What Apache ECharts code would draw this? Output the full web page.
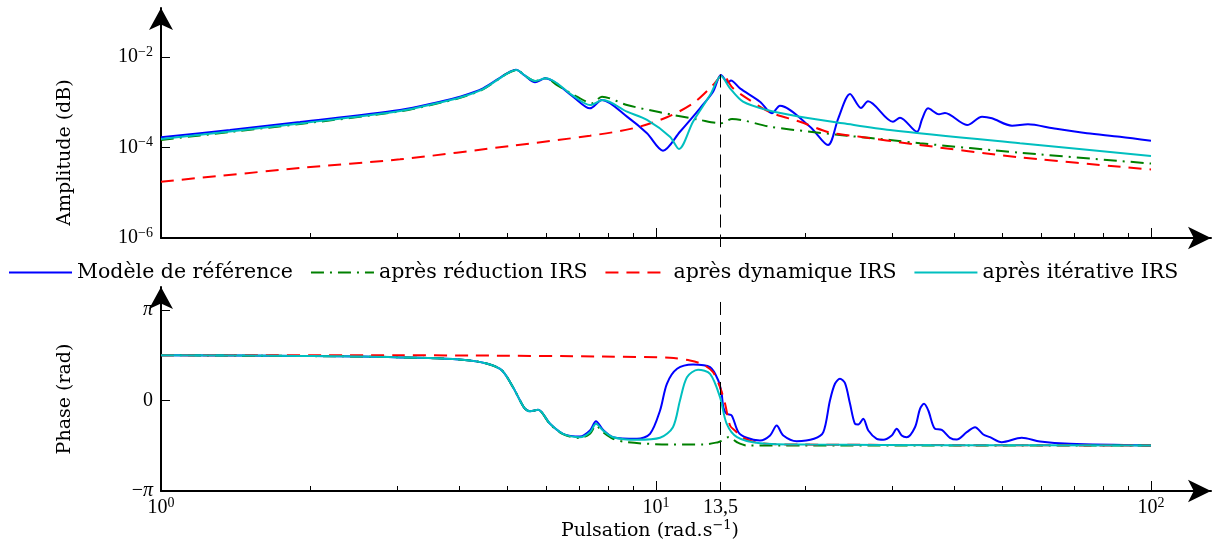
<!DOCTYPE html>
<html>
<head>
<meta charset="utf-8">
<title>Bode IRS</title>
<script src="https://cdn.jsdelivr.net/npm/echarts@6/dist/echarts.min.js"></script>
<style>
  html, body { margin: 0; padding: 0; background: #fff; }
  #chart { width: 1223px; height: 547px; }
</style>
</head>
<body>
<div id="chart"></div>
<script>
// noms des courbes
const seriesNames = ['Modèle de référence', 'après réduction IRS', 'après dynamique IRS', 'après itérative IRS'];
const seriesColors = ['#0000ff', '#008000', '#ff0000', '#00bfbf'];

// amplitude - modèle de référence
const refAmpFreq = [1, 1.378, 1.909, 3.04, 3.662, 4.018, 4.472, 5.0, 5.214, 5.437, 5.697, 5.969, 6.797, 7.356, 7.778, 8.738, 9.59, 10.33, 11.18, 12.27, 13.04, 13.53, 13.98, 14.17, 14.78, 16.22, 17.15, 17.8, 20.47, 22.26, 23.35, 24.66, 25.95, 26.81, 30.11, 31.11, 33.68, 34.47, 35.45, 37.3, 38.35, 42.5, 45.57, 47.72, 52.39, 56.43, 63.39, 74.24, 86.56, 100];
const refAmp = [1.68e-4, 2.44e-4, 3.66e-4, 6.74e-4, 1.03e-3, 1.33e-3, 2.03e-3, 4.37e-3, 5.24e-3, 3.86e-3, 2.76e-3, 3.38e-3, 1.33e-3, 7.35e-4, 1.12e-3, 4.8e-4, 2.06e-4, 8.49e-5, 2.23e-4, 7.35e-4, 1.71e-3, 4.0e-3, 2.73e-3, 3.03e-3, 2.03e-3, 1.03e-3, 5.7e-4, 8.39e-4, 2.88e-4, 1.13e-4, 4.42e-4, 1.52e-3, 7.47e-4, 1.05e-3, 3.71e-4, 4.56e-4, 2.23e-4, 4.2e-4, 7.35e-4, 5.42e-4, 5.78e-4, 3.14e-4, 4.8e-4, 4.42e-4, 3.03e-4, 3.26e-4, 2.65e-4, 2.06e-4, 1.73e-4, 1.41e-4];

// amplitude - après réduction IRS
const redAmpFreq = [1, 1.378, 1.909, 3.04, 3.662, 4.018, 4.472, 5.0, 5.231, 5.437, 5.697, 5.997, 6.31, 6.925, 7.425, 7.778, 8.738, 10.19, 12.27, 13.53, 14.24, 17.0, 20.47, 24.32, 29.69, 34.15, 54.38, 100];
const redAmp = [1.47e-4, 2.2e-4, 3.3e-4, 6.3e-4, 9.7e-4, 1.25e-3, 1.93e-3, 4.28e-3, 5.17e-3, 3.86e-3, 2.95e-3, 3.38e-3, 2.4e-3, 1.33e-3, 9.48e-4, 1.33e-3, 8.69e-4, 6.0e-4, 4.06e-4, 3.43e-4, 4.27e-4, 2.88e-4, 2.23e-4, 1.82e-4, 1.47e-4, 1.24e-4, 7.67e-5, 4.43e-5];

// amplitude - après dynamique IRS
const dynAmpFreq = [1, 1.909, 3.04, 5.142, 7.356, 8.985, 10.52, 11.88, 13.04, 13.68, 14.0, 14.31, 15.27, 17.0, 19.54, 22.36, 25.83, 33.05, 54.38, 100];
const dynAmp = [1.75e-5, 3.52e-5, 5.48e-5, 1.1e-4, 1.82e-4, 2.65e-4, 4.65e-4, 9.48e-4, 2.4e-3, 4.15e-3, 2.84e-3, 2.03e-3, 1.22e-3, 6.0e-4, 3.71e-4, 2.17e-4, 1.73e-4, 1.19e-4, 6.07e-5, 3.27e-5];

// amplitude - après itérative IRS
const iterAmpFreq = [1, 1.378, 1.909, 3.04, 3.662, 4.018, 4.472, 5.0, 5.231, 5.437, 5.697, 5.997, 6.797, 7.356, 7.814, 8.738, 9.59, 10.67, 11.13, 11.88, 12.86, 13.53, 14.11, 14.99, 16.76, 19.54, 23.87, 29.69, 54.38, 100];
const iterAmp = [1.55e-4, 2.26e-4, 3.39e-4, 6.41e-4, 9.87e-4, 1.27e-3, 1.96e-3, 4.31e-3, 5.17e-3, 3.86e-3, 2.95e-3, 3.38e-3, 1.4e-3, 8.69e-4, 1.12e-3, 6.18e-4, 4.06e-4, 1.73e-4, 9.27e-5, 3.71e-4, 1.44e-3, 3.8e-3, 2.03e-3, 1.03e-3, 6.74e-4, 4.8e-4, 3.43e-4, 2.44e-4, 1.24e-4, 6.49e-5];

// phase - modèle de référence (rad)
const refPhaseFreq = [1, 1.909, 2.969, 4.209, 4.841, 5.142, 5.312, 5.437, 5.566, 5.777, 6.109, 6.488, 7.022, 7.356, 7.564, 7.814, 8.188, 9.154, 9.725, 10.19, 10.52, 11.03, 11.88, 12.86, 13.36, 13.57, 13.68, 13.89, 14.22, 14.67, 15.25, 16.22, 17.0, 17.53, 18.08, 19.24, 20.86, 21.78, 22.46, 22.99, 23.53, 24.09, 24.66, 25.23, 25.62, 26.22, 26.85, 27.92, 28.79, 29.94, 30.64, 31.36, 32.09, 33.36, 34.15, 34.79, 35.49, 36.61, 37.78, 39.26, 40.51, 42.44, 44.11, 45.84, 47.29, 49.93, 54.81, 59.67, 68.61, 100];
const refPhase = [1.571, 1.545, 1.503, 1.389, 1.1, 0.462, 0, -0.288, -0.371, -0.323, -0.809, -1.156, -1.25, -1.041, -0.719, -1.017, -1.274, -1.33, -1.156, -0.347, 0.58, 1.1, 1.25, 1.156, 0.694, 0.243, -0.243, -0.462, -0.521, -1.1, -1.295, -1.389, -1.215, -0.868, -1.215, -1.413, -1.33, -1.1, 0, 0.58, 0.753, 0.601, -0.115, -0.809, -0.833, -0.635, -1.041, -1.33, -1.364, -1.215, -0.982, -1.215, -1.274, -0.927, -0.288, -0.115, -0.347, -0.982, -1.017, -1.295, -1.354, -1.1, -0.927, -1.18, -1.274, -1.448, -1.295, -1.423, -1.503, -1.562];

// phase - après réduction IRS
const redPhaseFreq = [1, 1.909, 2.969, 4.209, 4.841, 5.142, 5.312, 5.437, 5.566, 5.777, 6.109, 6.488, 7.022, 7.356, 7.564, 7.814, 8.188, 8.738, 10.67, 12.44, 13.35, 13.57, 14.04, 14.58, 15.27, 100];
const redPhase = [1.571, 1.545, 1.503, 1.389, 1.1, 0.462, 0, -0.288, -0.371, -0.33, -0.82, -1.17, -1.3, -1.15, -0.87, -1.1, -1.33, -1.448, -1.527, -1.527, -1.448, -1.4, -1.27, -1.45, -1.562, -1.562];

// phase - après dynamique IRS
const dynPhaseFreq = [1, 3.04, 4.209, 7.814, 10.67, 11.71, 12.44, 13.04, 13.47, 13.79, 14.11, 14.43, 14.99, 16.22, 20, 100];
const dynPhase = [1.575, 1.57, 1.562, 1.527, 1.482, 1.389, 1.25, 0.982, 0.462, -0.115, -0.868, -1.04, -1.295, -1.48, -1.53, -1.562];

// phase - après itérative IRS
const iterPhaseFreq = [1, 1.909, 2.969, 4.209, 4.841, 5.142, 5.312, 5.437, 5.566, 5.777, 6.109, 6.488, 7.022, 7.356, 7.564, 7.814, 8.188, 9.154, 10.19, 10.82, 11.18, 11.55, 12.16, 12.86, 13.47, 13.89, 14.58, 16.22, 20.47, 40, 100];
const iterPhase = [1.571, 1.545, 1.503, 1.389, 1.1, 0.462, 0, -0.288, -0.371, -0.323, -0.809, -1.156, -1.274, -1.1, -0.809, -1.041, -1.274, -1.364, -1.295, -0.927, 0, 0.809, 1.066, 0.927, 0.115, -0.8, -1.27, -1.482, -1.53, -1.55, -1.562];

// graduations
const minorTicks = [2, 3, 4, 5, 6, 7, 8, 9, 20, 30, 40, 50, 60, 70, 80, 90];
const majorTicks = [10, 100];
const xLabels = [1, 10, 13.5, 100];
const ampTicks = [1e-6, 1e-4, 1e-2];
const phaseTicks = [-Math.PI, 0, Math.PI];
const markFreq = 13.5;

const zip = (xs, ys) => xs.map((x, i) => [x, ys[i]]);

const rich = {
  b: { fontFamily: 'Liberation Serif', fontSize: 20, color: '#000', lineHeight: 24 },
  s: { fontFamily: 'Liberation Serif', fontSize: 14, color: '#000', lineHeight: 14, verticalAlign: 'top' },
  p: { fontFamily: 'Liberation Serif', fontSize: 20, fontStyle: 'italic', color: '#000', lineHeight: 24 }
};

function powLabel(v) {
  const e = Math.round(Math.log10(v));
  return '{b|10}{s|' + (e < 0 ? '\u2212' + (-e) : e) + '}';
}
function xLabel(v) {
  if (Math.abs(v - 13.5) < 1e-6) return '{b|13,5}';
  return powLabel(v);
}
function piLabel(v) {
  const k = Math.round(v / Math.PI);
  if (k === 0) return '{b|0}';
  if (k > 0) return '{p|\u03c0}';
  return '{b|\u2212}{p|\u03c0}';
}

const axisBlack = { color: '#000', width: 2 };

function xBase(grid, extra) {
  return Object.assign({
    type: 'log', logBase: 10, gridIndex: grid, min: 1, max: 132.2, position: 'bottom',
    axisLine: { show: false, onZero: false },
    axisTick: { show: false },
    axisLabel: { show: false },
    splitLine: { show: false }
  }, extra);
}

function xAxes(grid, withLabels) {
  const list = [
    xBase(grid, {
      axisLine: { show: true, onZero: false, symbol: ['none', 'arrow'], symbolSize: [17, 23], lineStyle: axisBlack },
      axisTick: { show: true, inside: true, length: 5, customValues: minorTicks, lineStyle: { color: '#000', width: 1 } }
    }),
    xBase(grid, {
      axisTick: { show: true, inside: true, length: 10, customValues: majorTicks, lineStyle: { color: '#000', width: 1 } },
      axisLabel: withLabels
        ? { show: true, customValues: xLabels, margin: 5, formatter: xLabel, rich: rich }
        : { show: false }
    })
  ];
  if (withLabels) {
    list[0].name = '{n|Pulsation (rad.s}{s|\u22121}{n|)}';
    list[0].nameLocation = 'middle';
    list[0].nameGap = 28;
    list[0].nameTextStyle = {
      padding: [0, 72, 0, 0],
      rich: {
        n: { fontFamily: 'DejaVu Serif', fontSize: 19, color: '#000', lineHeight: 24 },
        s: { fontFamily: 'DejaVu Serif', fontSize: 13, color: '#000', lineHeight: 13, verticalAlign: 'top' }
      }
    };
  } else {
    // prolongement du trait pointillé sous l'axe
    list.push(xBase(grid, {
      axisTick: { show: true, inside: false, length: 9, customValues: [markFreq], lineStyle: { color: '#000', width: 1 } }
    }));
  }
  return list;
}

const xAxis = xAxes(0, false).concat(xAxes(1, true));
const topX = 0, botX = xAxis.length - 2;

const yAxis = [
  {
    type: 'log', logBase: 10, gridIndex: 0, min: 1e-6, max: 0.121,
    name: 'Amplitude (dB)', nameLocation: 'middle', nameRotate: 90, nameGap: 86,
    nameTextStyle: { fontFamily: 'DejaVu Serif', fontSize: 19, color: '#000', padding: [0, 59, 0, 0] },
    axisLine: { show: true, onZero: false, symbol: ['none', 'arrow'], symbolSize: [18, 22], lineStyle: axisBlack },
    axisTick: { show: true, inside: true, length: 9, customValues: ampTicks, lineStyle: { color: '#000', width: 1 } },
    axisLabel: { show: true, customValues: ampTicks, margin: 8, formatter: powLabel, rich: rich },
    splitLine: { show: false }
  },
  {
    type: 'value', gridIndex: 1, min: -Math.PI, max: 3.94,
    name: 'Phase (rad)', nameLocation: 'middle', nameRotate: 90, nameGap: 86,
    nameTextStyle: { fontFamily: 'DejaVu Serif', fontSize: 19, color: '#000', padding: [0, 20, 0, 0] },
    axisLine: { show: true, onZero: false, symbol: ['none', 'arrow'], symbolSize: [18, 22], lineStyle: axisBlack },
    axisTick: { show: true, inside: true, length: 9, customValues: phaseTicks, lineStyle: { color: '#000', width: 1 } },
    axisLabel: { show: true, customValues: phaseTicks, margin: 8, formatter: piLabel, rich: rich },
    splitLine: { show: false }
  }
];

const lineTypes = ['solid', [13, 6, 2, 6], [13, 8], 'solid'];
const ampData = [zip(refAmpFreq, refAmp), zip(redAmpFreq, redAmp), zip(dynAmpFreq, dynAmp), zip(iterAmpFreq, iterAmp)];
const phaseData = [zip(refPhaseFreq, refPhase), zip(redPhaseFreq, redPhase), zip(dynPhaseFreq, dynPhase), zip(iterPhaseFreq, iterPhase)];

const dashMark = { type: [13, 7], color: '#000', width: 1 };

function makeLine(i, data, xi, yi) {
  return {
    name: seriesNames[i], type: 'line', xAxisIndex: xi, yAxisIndex: yi,
    data: data, smooth: 0.3, symbol: 'none', showSymbol: false,
    lineStyle: { color: seriesColors[i], width: 2, type: lineTypes[i] },
    itemStyle: { color: seriesColors[i] },
    emphasis: { disabled: true }
  };
}

const series = [];
ampData.forEach((d, i) => series.push(makeLine(i, d, topX, 0)));
phaseData.forEach((d, i) => series.push(makeLine(i, d, botX, 1)));

series[0].markLine = {
  silent: true, symbol: 'none', label: { show: false }, lineStyle: dashMark,
  data: [[{ coord: [markFreq, 4.1e-3] }, { coord: [markFreq, 1.0001e-6] }]]
};
series[4].markLine = {
  silent: true, symbol: 'none', label: { show: false }, lineStyle: dashMark,
  data: [[{ coord: [markFreq, 3.42] }, { coord: [markFreq, -3.1415] }]]
};

const chart = echarts.init(document.getElementById('chart'));
chart.setOption({
  animation: false,
  backgroundColor: '#fff',
  legend: {
    data: seriesNames,
    left: 8, top: 262, padding: 0,
    itemWidth: 63, itemHeight: 14, itemGap: 17,
    itemStyle: { opacity: 0 },
    textStyle: { fontFamily: 'DejaVu Serif', fontSize: 20.5, color: '#000' }
  },
  grid: [
    { left: 161, right: 12, top: 8, height: 230 },
    { left: 161, right: 12, top: 287, height: 204 }
  ],
  xAxis: xAxis,
  yAxis: yAxis,
  series: series
});
</script>
</body>
</html>
